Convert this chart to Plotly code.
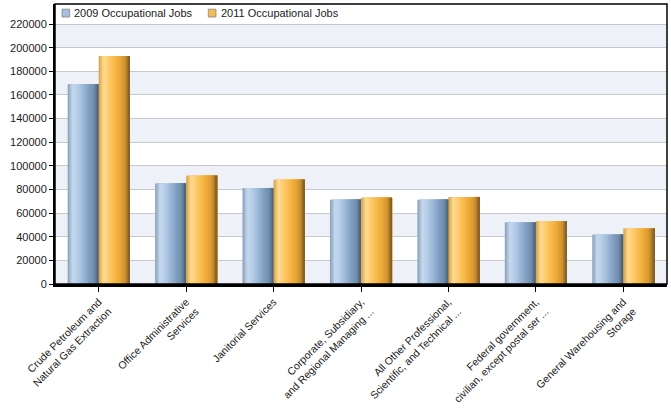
import plotly.graph_objects as go

categories = [
    "Crude Petroleum and<br>Natural Gas Extraction",
    "Office Administrative<br>Services",
    "Janitorial Services",
    "Corporate, Subsidiary,<br>and Regional Managing ...",
    "All Other Professional,<br>Scientific, and Technical ...",
    "Federal government,<br>civilian, except postal ser ...",
    "General Warehousing and<br>Storage",
]
jobs_2009 = [169000, 85100, 81300, 71400, 71400, 52000, 41700]
jobs_2011 = [193000, 91700, 88300, 72900, 73700, 53100, 46900]
series_names = ["2009 Occupational Jobs", "2011 Occupational Jobs"]
y_ticks = list(range(0, 220001, 20000))

blue_stops = ["#8ea5bf", "#c6d9ee", "#b8cfe8", "#a5c0de", "#91aed0", "#7f9cbf", "#7090b0", "#52647b"]
orange_stops = ["#d9a850", "#ffdb92", "#fdce74", "#fac056", "#f4b342", "#e8a536", "#d0952e", "#86612a"]
legend_colors = ["#a7bfd9", "#f8bd4f"]


def hex2rgb(h):
    h = h.lstrip("#")
    return [int(h[i:i + 2], 16) for i in (0, 2, 4)]


def interp(stops, n):
    rgb = [hex2rgb(s) for s in stops]
    out = []
    for k in range(n):
        t = k / (n - 1) * (len(rgb) - 1)
        i = min(int(t), len(rgb) - 2)
        f = t - i
        c = [round(rgb[i][j] + (rgb[i + 1][j] - rgb[i][j]) * f) for j in range(3)]
        out.append("rgb(%d,%d,%d)" % tuple(c))
    return out


fig = go.Figure()

bar_w = 0.355
N = 24
slice_w = bar_w / N


def add_series(values, stops, base, name):
    cols = interp(stops, N)
    for i, col in enumerate(cols):
        fig.add_trace(go.Bar(
            x=categories, y=values,
            offset=base + i * slice_w,
            width=bar_w - i * slice_w,
            marker=dict(color=col, line=dict(width=0)),
            name=name, showlegend=False,
            hoverinfo="y",
        ))


add_series(jobs_2009, blue_stops, -bar_w, series_names[0])
add_series(jobs_2011, orange_stops, 0.0, series_names[1])

# alternating background bands
shapes = []
for k in range(0, len(y_ticks) - 1, 2):
    shapes.append(dict(type="rect", xref="paper", yref="y", x0=0, x1=1,
                       y0=y_ticks[k], y1=y_ticks[k + 1],
                       fillcolor="#eef2f8", line=dict(width=0), layer="below"))
shapes.append(dict(type="rect", xref="paper", yref="paper", x0=0, x1=1, y0=0, y1=1,
                   line=dict(color="black", width=1.5), layer="above"))

# custom legend (inside top of plot)
annotations = []
leg_x = [0.0115, 0.2505]
for name, col, lx in zip(series_names, legend_colors, leg_x):
    shapes.append(dict(type="rect", xref="paper", yref="paper",
                       x0=lx, x1=lx + 0.0125, y0=0.9535, y1=0.9815,
                       fillcolor=col, line=dict(color="#7f8790", width=0.8), layer="above"))
    annotations.append(dict(xref="paper", yref="paper", x=lx + 0.017, y=0.968,
                            xanchor="left", yanchor="middle", showarrow=False,
                            text=name, font=dict(size=11, color="#222")))

fig.update_layout(
    width=671, height=410,
    margin=dict(l=55, r=4, t=4, b=126, autoexpand=False),
    barmode="overlay",
    paper_bgcolor="white", plot_bgcolor="white",
    font=dict(family="Liberation Sans, Arial, sans-serif", size=11, color="#222"),
    shapes=shapes,
    annotations=annotations,
    showlegend=False,
)
fig.update_yaxes(range=[0, 237000], tickvals=y_ticks, ticktext=[str(v) for v in y_ticks],
                 showgrid=True, gridcolor="#c6c9cf", gridwidth=1,
                 showline=True, linecolor="black", linewidth=2,
                 ticks="outside", ticklen=4, tickcolor="black", automargin=False,
                 tickfont=dict(size=11, color="#1a1a1a"), zeroline=False)
fig.update_xaxes(showline=True, linecolor="black", linewidth=2.5,
                 ticks="outside", ticklen=5, tickcolor="black", automargin=False,
                 tickangle=-45, tickfont=dict(size=10.5, color="#1a1a1a"),
                 showgrid=False)

fig.write_html("out.html", config={"displayModeBar": False},
               post_script="document.body.style.margin='0';document.body.style.overflow='hidden';")
